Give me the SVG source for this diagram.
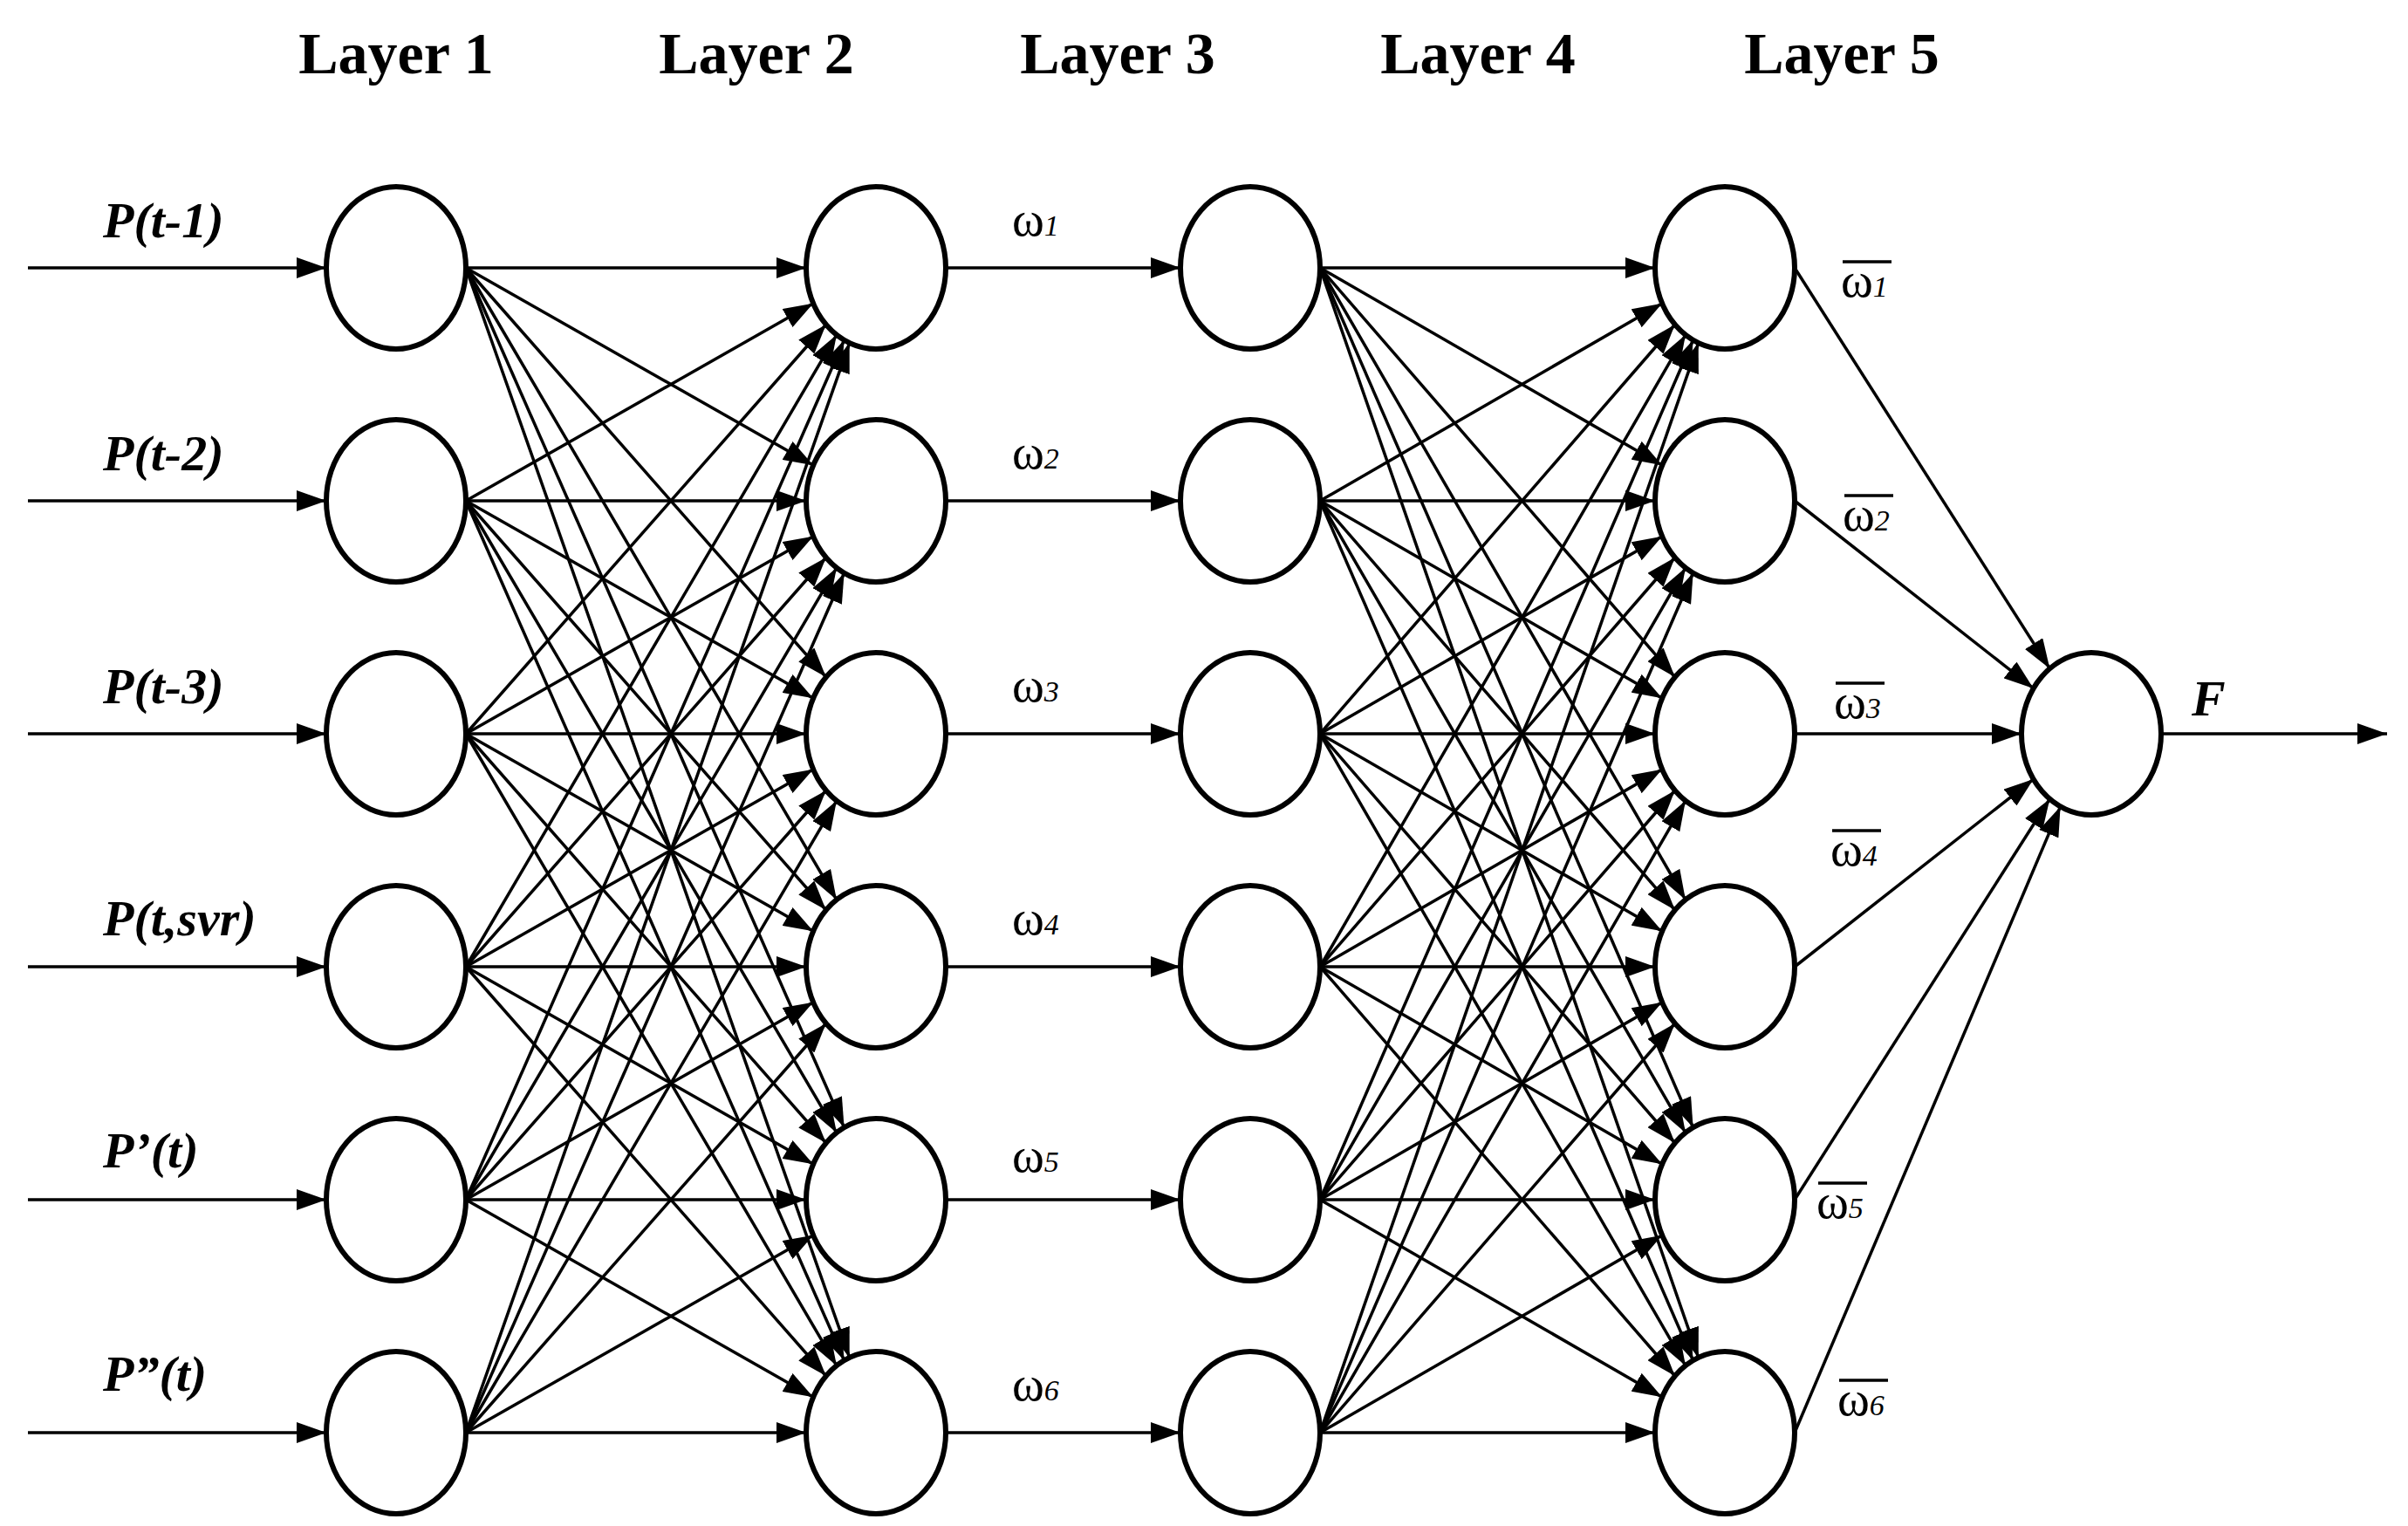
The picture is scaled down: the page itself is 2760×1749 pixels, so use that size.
<svg xmlns="http://www.w3.org/2000/svg" width="2760" height="1749" viewBox="0 0 2760 1749">
<style>
.n{fill:#fff;stroke:#000;stroke-width:6}
.c path{fill:none;stroke:#000;stroke-width:3.5;marker-end:url(#a)}
.h{font-family:"Liberation Serif",serif;font-weight:bold;font-size:68px;text-anchor:middle}
.p{font-family:"Liberation Serif",serif;font-weight:bold;font-style:italic;font-size:58px}
.w{font-family:"Liberation Serif",serif;font-size:56px}
.s{font-style:italic;font-size:34px}
.b{stroke:#000;stroke-width:3.5}
</style>
<defs>
<marker id="a" markerUnits="userSpaceOnUse" markerWidth="34" markerHeight="24" refX="34" refY="12" orient="auto"><path d="M0,0L34,12L0,24z" fill="#000"/></marker>
</defs>
<rect width="2760" height="1749" fill="#fff"/>
<g id="headings">
<text class="h" x="454" y="84">Layer 1</text>
<text class="h" x="867" y="84">Layer 2</text>
<text class="h" x="1281" y="84">Layer 3</text>
<text class="h" x="1694" y="84">Layer 4</text>
<text class="h" x="2111" y="84">Layer 5</text>
</g>
<g id="connectors" class="c">
<path d="M32 307H374"/><path d="M32 574H374"/><path d="M32 841H374"/><path d="M32 1108H374"/><path d="M32 1375H374"/><path d="M32 1642H374"/>
<path d="M534 307L924 307"/><path d="M534 307L932.1 533.2"/><path d="M534 307L946.8 776"/><path d="M534 307L958.9 1031.2"/><path d="M534 307L967.6 1292.2"/><path d="M534 307L973.7 1555.9"/>
<path d="M534 574L932.1 347.8"/><path d="M534 574L924 574"/><path d="M534 574L932.1 800.2"/><path d="M534 574L946.8 1043"/><path d="M534 574L958.9 1298.2"/><path d="M534 574L967.6 1559.2"/>
<path d="M534 841L946.8 372"/><path d="M534 841L932.1 614.8"/><path d="M534 841L924 841"/><path d="M534 841L932.1 1067.2"/><path d="M534 841L946.8 1310"/><path d="M534 841L958.9 1565.2"/>
<path d="M534 1108L958.9 383.8"/><path d="M534 1108L946.8 639"/><path d="M534 1108L932.1 881.8"/><path d="M534 1108L924 1108"/><path d="M534 1108L932.1 1334.2"/><path d="M534 1108L946.8 1577"/>
<path d="M534 1375L967.6 389.8"/><path d="M534 1375L958.9 650.8"/><path d="M534 1375L946.8 906"/><path d="M534 1375L932.1 1148.8"/><path d="M534 1375L924 1375"/><path d="M534 1375L932.1 1601.2"/>
<path d="M534 1642L973.7 393.1"/><path d="M534 1642L967.6 656.8"/><path d="M534 1642L958.9 917.8"/><path d="M534 1642L946.8 1173"/><path d="M534 1642L932.1 1415.8"/><path d="M534 1642L924 1642"/>
<path d="M1084 307H1353"/><path d="M1084 574H1353"/><path d="M1084 841H1353"/><path d="M1084 1108H1353"/><path d="M1084 1375H1353"/><path d="M1084 1642H1353"/>
<path d="M1513 307L1897 307"/><path d="M1513 307L1905.1 533.2"/><path d="M1513 307L1919.8 776"/><path d="M1513 307L1931.9 1031.2"/><path d="M1513 307L1940.6 1292.2"/><path d="M1513 307L1946.7 1555.9"/>
<path d="M1513 574L1905.1 347.8"/><path d="M1513 574L1897 574"/><path d="M1513 574L1905.1 800.2"/><path d="M1513 574L1919.8 1043"/><path d="M1513 574L1931.9 1298.2"/><path d="M1513 574L1940.6 1559.2"/>
<path d="M1513 841L1919.8 372"/><path d="M1513 841L1905.1 614.8"/><path d="M1513 841L1897 841"/><path d="M1513 841L1905.1 1067.2"/><path d="M1513 841L1919.8 1310"/><path d="M1513 841L1931.9 1565.2"/>
<path d="M1513 1108L1931.9 383.8"/><path d="M1513 1108L1919.8 639"/><path d="M1513 1108L1905.1 881.8"/><path d="M1513 1108L1897 1108"/><path d="M1513 1108L1905.1 1334.2"/><path d="M1513 1108L1919.8 1577"/>
<path d="M1513 1375L1940.6 389.8"/><path d="M1513 1375L1931.9 650.8"/><path d="M1513 1375L1919.8 906"/><path d="M1513 1375L1905.1 1148.8"/><path d="M1513 1375L1897 1375"/><path d="M1513 1375L1905.1 1601.2"/>
<path d="M1513 1642L1946.7 393.1"/><path d="M1513 1642L1940.6 656.8"/><path d="M1513 1642L1931.9 917.8"/><path d="M1513 1642L1919.8 1173"/><path d="M1513 1642L1905.1 1415.8"/><path d="M1513 1642L1897 1642"/>
<path d="M2057 307L2349.4 766.3"/><path d="M2057 574L2330.7 788.9"/><path d="M2057 841L2317 841"/><path d="M2057 1108L2330.7 893.1"/><path d="M2057 1375L2349.4 915.7"/><path d="M2057 1642L2361.6 924.4"/>
<path d="M2477 841H2736"/>
</g>
<g id="layer1">
<ellipse class="n" cx="454" cy="307" rx="80" ry="93"/><ellipse class="n" cx="454" cy="574" rx="80" ry="93"/><ellipse class="n" cx="454" cy="841" rx="80" ry="93"/><ellipse class="n" cx="454" cy="1108" rx="80" ry="93"/><ellipse class="n" cx="454" cy="1375" rx="80" ry="93"/><ellipse class="n" cx="454" cy="1642" rx="80" ry="93"/>
</g>
<g id="layer2">
<ellipse class="n" cx="1004" cy="307" rx="80" ry="93"/><ellipse class="n" cx="1004" cy="574" rx="80" ry="93"/><ellipse class="n" cx="1004" cy="841" rx="80" ry="93"/><ellipse class="n" cx="1004" cy="1108" rx="80" ry="93"/><ellipse class="n" cx="1004" cy="1375" rx="80" ry="93"/><ellipse class="n" cx="1004" cy="1642" rx="80" ry="93"/>
</g>
<g id="layer3">
<ellipse class="n" cx="1433" cy="307" rx="80" ry="93"/><ellipse class="n" cx="1433" cy="574" rx="80" ry="93"/><ellipse class="n" cx="1433" cy="841" rx="80" ry="93"/><ellipse class="n" cx="1433" cy="1108" rx="80" ry="93"/><ellipse class="n" cx="1433" cy="1375" rx="80" ry="93"/><ellipse class="n" cx="1433" cy="1642" rx="80" ry="93"/>
</g>
<g id="layer4">
<ellipse class="n" cx="1977" cy="307" rx="80" ry="93"/><ellipse class="n" cx="1977" cy="574" rx="80" ry="93"/><ellipse class="n" cx="1977" cy="841" rx="80" ry="93"/><ellipse class="n" cx="1977" cy="1108" rx="80" ry="93"/><ellipse class="n" cx="1977" cy="1375" rx="80" ry="93"/><ellipse class="n" cx="1977" cy="1642" rx="80" ry="93"/>
</g>
<g id="layer5">
<ellipse class="n" cx="2397" cy="841" rx="80" ry="93"/>
</g>
<g id="input-labels">
<text class="p" x="118" y="272">P(t-1)</text>
<text class="p" x="118" y="539">P(t-2)</text>
<text class="p" x="118" y="806">P(t-3)</text>
<text class="p" x="118" y="1072">P(t,svr)</text>
<text class="p" x="118" y="1338">P’(t)</text>
<text class="p" x="118" y="1594">P”(t)</text>
</g>
<g id="weight-labels">
<text class="w" x="1160" y="270">ω<tspan class="s">1</tspan></text>
<text class="w" x="1160" y="537">ω<tspan class="s">2</tspan></text>
<text class="w" x="1160" y="804">ω<tspan class="s">3</tspan></text>
<text class="w" x="1160" y="1071">ω<tspan class="s">4</tspan></text>
<text class="w" x="1160" y="1343">ω<tspan class="s">5</tspan></text>
<text class="w" x="1160" y="1605">ω<tspan class="s">6</tspan></text>
</g>
<g id="norm-weight-labels">
<text class="w" x="2110" y="340">ω<tspan class="s">1</tspan></text><line class="b" x1="2112" y1="300" x2="2168" y2="300"/>
<text class="w" x="2112" y="608">ω<tspan class="s">2</tspan></text><line class="b" x1="2114" y1="568" x2="2170" y2="568"/>
<text class="w" x="2102" y="823">ω<tspan class="s">3</tspan></text><line class="b" x1="2104" y1="783" x2="2160" y2="783"/>
<text class="w" x="2098" y="992">ω<tspan class="s">4</tspan></text><line class="b" x1="2100" y1="952" x2="2156" y2="952"/>
<text class="w" x="2082" y="1396">ω<tspan class="s">5</tspan></text><line class="b" x1="2084" y1="1356" x2="2140" y2="1356"/>
<text class="w" x="2106" y="1622">ω<tspan class="s">6</tspan></text><line class="b" x1="2108" y1="1582" x2="2164" y2="1582"/>
<text class="p" x="2512" y="820">F</text>
</g>
</svg>
